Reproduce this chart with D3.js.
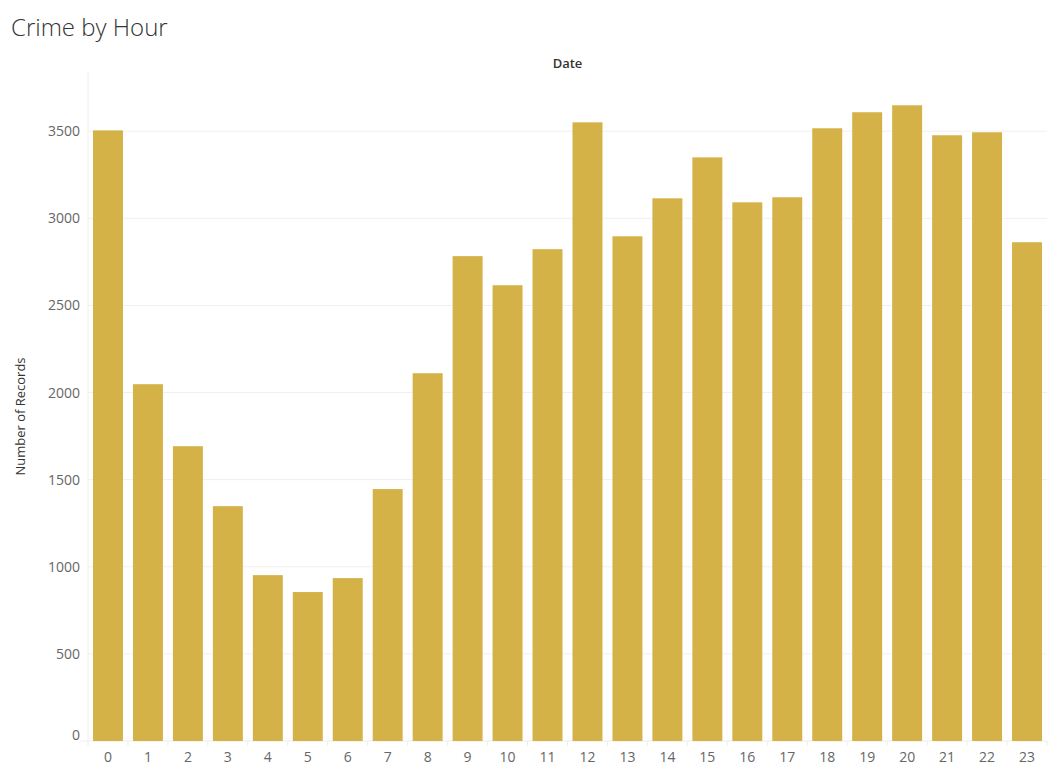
<!DOCTYPE html>
<html><head><meta charset="utf-8">
<script src="https://cdn.jsdelivr.net/npm/d3@7"></script>
<style>body{margin:0;background:#fff;font-family:"Open Sans",Lato,sans-serif}</style>
</head><body>
<svg id="chart" width="1059" height="776"></svg>
<script>
const hours = ["0","1","2","3","4","5","6","7","8","9","10","11","12","13","14","15","16","17","18","19","20","21","22","23"];
const records = [3505,2048,1692,1348,952,855,935,1446,2111,2783,2616,2823,3551,2897,3115,3350,3092,3121,3517,3609,3649,3477,3494,2863];
const yTicks = [0,500,1000,1500,2000,2500,3000,3500];

const svg = d3.select("svg#chart");
const margin = { top: 72, right: 12, bottom: 35, left: 88 };
const w = 1059 - margin.left - margin.right;
const h = 776 - margin.top - margin.bottom;
const g = svg.append("g").attr("transform", `translate(${margin.left},${margin.top})`);

const x = d3.scaleBand().domain(hours).range([0, w]).paddingInner(0.25).paddingOuter(0.125);
const y = d3.scaleLinear().domain([0, 3840]).range([h, 0]);

svg.append("text").text("Crime by Hour").attr("x", 11).attr("y", 36)
  .style("font-size", "24px").style("font-weight", 300).attr("fill", "#333");
svg.append("text").text("Date").attr("x", margin.left + w / 2).attr("y", 68)
  .attr("text-anchor", "middle").style("font-size", "13px").style("font-weight", 600).attr("fill", "#333");
svg.append("text").text("Number of Records")
  .attr("transform", `translate(25,${margin.top + h / 2 + 10}) rotate(-90)`)
  .attr("text-anchor", "middle").style("font-size", "13px").attr("fill", "#333");

// gridlines
g.selectAll("line.grid").data(yTicks.slice(1)).join("line")
  .attr("x1", 0).attr("x2", w).attr("y1", d => y(d)).attr("y2", d => y(d))
  .attr("stroke", "#f0f0f0");
g.append("line").attr("x1", 0).attr("x2", 0).attr("y1", 0).attr("y2", h).attr("stroke", "#eee");
g.append("line").attr("x1", -8).attr("x2", w).attr("y1", h).attr("y2", h).attr("stroke", "#eee");

g.selectAll("rect.bar").data(records).join("rect")
  .attr("x", (d, i) => x(hours[i])).attr("width", x.bandwidth())
  .attr("y", d => y(d)).attr("height", d => h - y(d)).attr("fill", "#D4B248");

// y labels
g.selectAll("text.yl").data(yTicks).join("text")
  .attr("x", -8).attr("y", d => (d === 0 ? y(d) - 6 : y(d)) + 5)
  .attr("text-anchor", "end").text(d => d)
  .style("font-size", "14px").attr("fill", "#666");

// x labels and separators
const step = x.step();
g.selectAll("line.sep").data(d3.range(25)).join("line")
  .attr("x1", i => i * step).attr("x2", i => i * step).attr("y1", h).attr("y2", h + 5).attr("stroke", "#eee");
g.selectAll("text.xl").data(hours).join("text")
  .attr("x", d => x(d) + x.bandwidth() / 2).attr("y", h + 21)
  .attr("text-anchor", "middle").text(d => d)
  .style("font-size", "14px").attr("fill", "#666");
</script>
</body></html>
